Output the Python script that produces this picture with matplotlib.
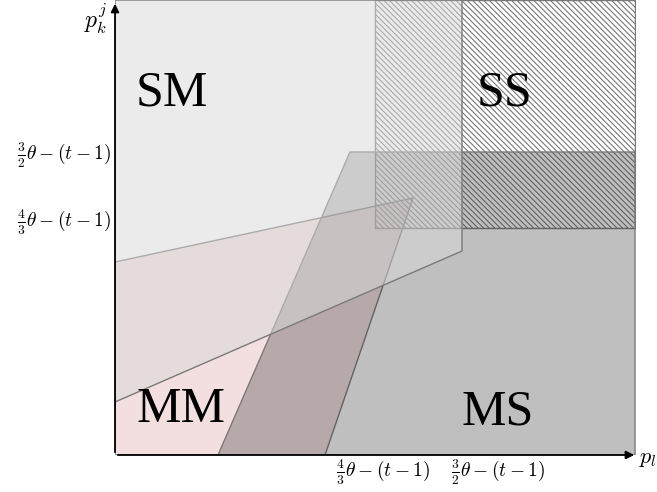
import matplotlib
matplotlib.use("Agg")
import matplotlib.pyplot as plt
from matplotlib.patches import Polygon, Rectangle

plt.rcParams['mathtext.fontset'] = 'cm'
plt.rcParams['hatch.linewidth'] = 0.8

# Region vertices (data units: x 0..520, y 0..455)
sm_x = [0, 347, 347, 0]
sm_y = [455, 455, 204, 53]
mm_x = [0, 0, 298, 210]
mm_y = [0, 193, 257, 0]
ms_x = [103, 235, 520, 520]
ms_y = [0, 303, 303, 0]
ss_x0, ss_x1 = 260, 520
ss_y0, ss_y1 = 227, 455

region_names = ["SM", "SS", "MM", "MS"]
region_label_x = [57, 390, 66, 383]
region_label_y = [362, 362, 45, 43]

xtick_pos = [268, 383]
ytick_pos = [300, 233]
tick_texts = [r"$\frac{4}{3}\theta-(t-1)$", r"$\frac{3}{2}\theta-(t-1)$"]
ytick_texts = [r"$\frac{3}{2}\theta-(t-1)$", r"$\frac{4}{3}\theta-(t-1)$"]

W, H = 657, 492
fig = plt.figure(figsize=(W / 100, H / 100), dpi=100)
ax = fig.add_axes([115 / W, (H - 455) / H, 521 / W, 455 / H])
ax.set_xlim(0, 521)
ax.set_ylim(0, 455)
ax.axis('off')

edge = '#7a7a7a'
ax.add_patch(Polygon(list(zip(mm_x, mm_y)), closed=True, facecolor='#f3dfdf',
                     edgecolor=edge, lw=1.0, zorder=1))
ax.add_patch(Rectangle((ss_x0, ss_y0), ss_x1 - ss_x0, ss_y1 - ss_y0,
                       facecolor='none', edgecolor='#787878', hatch='\\' * 6,
                       lw=1.0, zorder=2))
ax.add_patch(Polygon(list(zip(ms_x, ms_y)), closed=True, facecolor=(45/255, 45/255, 45/255, 0.3),
                     edgecolor=edge, lw=1.0, zorder=3))
ax.add_patch(Polygon(list(zip(sm_x, sm_y)), closed=True, facecolor=(217/255, 217/255, 217/255, 0.52),
                     edgecolor=edge, lw=1.0, zorder=4))

for name, x, y in zip(region_names, region_label_x, region_label_y):
    ax.text(x, y, name, fontsize=36, family='Liberation Serif', ha='center', va='center', zorder=6)

# axes arrows
ax.annotate('', xy=(0, 454), xytext=(0, 0),
            arrowprops=dict(arrowstyle='-|>', color='black', lw=1.3, mutation_scale=12),
            annotation_clip=False, zorder=7)
ax.annotate('', xy=(522, 0), xytext=(0, 0),
            arrowprops=dict(arrowstyle='-|>', color='black', lw=1.3, mutation_scale=12),
            annotation_clip=False, zorder=7)

ax.text(-8, 436, r"$p_k^j$", fontsize=17, ha='right', va='center')
ax.text(524, -4, r"$p_l$", fontsize=16, ha='left', va='center', clip_on=False)

for x, t in zip(xtick_pos, tick_texts):
    ax.text(x, -17, t, fontsize=14, ha='center', va='center', clip_on=False)
for y, t in zip(ytick_pos, ytick_texts):
    ax.text(-4, y, t, fontsize=14, ha='right', va='center', clip_on=False)

fig.savefig('out.png', dpi=100)
